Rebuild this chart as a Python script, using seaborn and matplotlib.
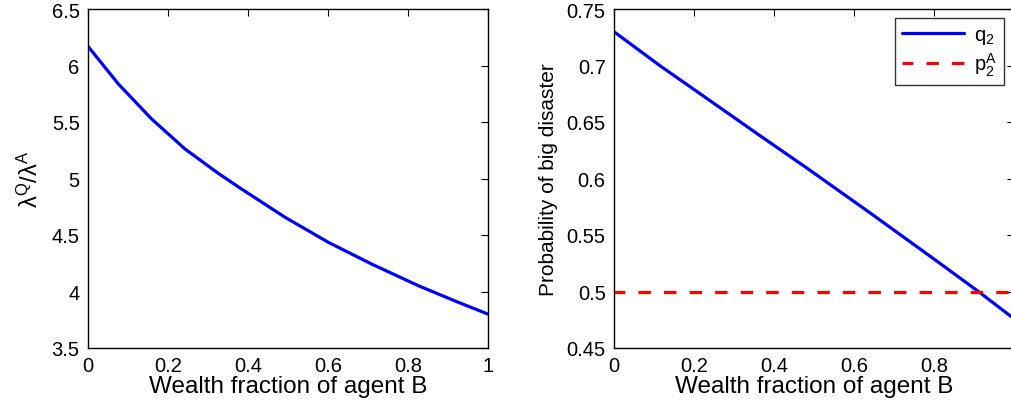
import numpy as np
import pandas as pd
import matplotlib
matplotlib.use('Agg')
import matplotlib.pyplot as plt
import seaborn as sns

# values
wealth_left = [0.0, 0.076, 0.159, 0.2425, 0.326, 0.38, 0.4925, 0.601, 0.709, 0.826, 0.926, 1.0]
lambda_ratio = [6.17, 5.836, 5.527, 5.261, 5.045, 4.916, 4.657, 4.435, 4.243, 4.051, 3.904, 3.80]

wealth_right = [0.0, 0.115, 0.24, 0.365, 0.4775, 0.644, 0.811, 0.911, 0.99, 1.0]
q2 = [0.7299, 0.6998, 0.6689, 0.6379, 0.6104, 0.5686, 0.5259, 0.50, 0.4786, 0.4765]
p2_a = [0.5] * len(wealth_right)

sns.set_theme(style='white')
plt.rcParams['font.family'] = ['Liberation Sans', 'DejaVu Sans']
plt.rcParams['mathtext.fontset'] = 'custom'
plt.rcParams['mathtext.rm'] = 'Liberation Sans'
plt.rcParams['mathtext.it'] = 'Liberation Sans'
plt.rcParams['text.color'] = 'black'
plt.rcParams['axes.labelcolor'] = 'black'

fig = plt.figure(figsize=(10.11, 4.02), dpi=100, facecolor='white')
W, H = 1011, 402
ax1 = fig.add_axes([88 / W, 1 - 349 / H, 400 / W, 339 / H])
ax2 = fig.add_axes([614 / W, 1 - 349 / H, 400 / W, 339 / H])

df1 = pd.DataFrame({'x': wealth_left, 'y': lambda_ratio})
sns.lineplot(data=df1, x='x', y='y', ax=ax1, color='#0000ff', linewidth=2.3)

df_q = pd.DataFrame({'x': wealth_right, 'y': q2})
df_p = pd.DataFrame({'x': wealth_right, 'y': p2_a})
sns.lineplot(data=df_q, x='x', y='y', ax=ax2, color='#0000ff', linewidth=2.3,
             label='$\\mathregular{q_2}$')
sns.lineplot(data=df_p, x='x', y='y', ax=ax2, color='#ff0000', linewidth=2.3,
             linestyle=(0.5, (3.9, 4.1)), label='$\\mathregular{p_2^A}$')

ticks_x = [0, 0.2, 0.4, 0.6, 0.8, 1]
ax1.set_xlim(0, 1)
ax1.set_ylim(3.5, 6.5)
ax1.set_xticks(ticks_x)
ax1.set_xticklabels(['0', '0.2', '0.4', '0.6', '0.8', '1'])
ax1.set_yticks([3.5, 4, 4.5, 5, 5.5, 6, 6.5])
ax1.set_yticklabels(['3.5', '4', '4.5', '5', '5.5', '6', '6.5'])
ax1.set_ylabel('$\\mathregular{\\lambda^Q/\\lambda^A}$', fontsize=17, labelpad=6)

ax2.set_xlim(0, 1)
ax2.set_ylim(0.45, 0.75)
ax2.set_xticks(ticks_x)
# the "1" label falls outside the cropped picture, as in the reference
ax2.set_xticklabels(['0', '0.2', '0.4', '0.6', '0.8', ''])
ax2.set_yticks([0.45, 0.5, 0.55, 0.6, 0.65, 0.7, 0.75])
ax2.set_yticklabels(['0.45', '0.5', '0.55', '0.6', '0.65', '0.7', '0.75'])
ax2.set_ylabel('Probability of big disaster', fontsize=15, labelpad=6)

for ax in (ax1, ax2):
    ax.set_xlabel('Wealth fraction of agent B', fontsize=17.5, labelpad=0)
    ax.tick_params(direction='in', length=5, width=0.8, top=True, right=True,
                   labelsize=14.5, colors='black', pad=6)
    for s in ax.spines.values():
        s.set_color('black')
        s.set_linewidth(1.0)

leg = ax2.legend(loc='upper right', bbox_to_anchor=(0.975, 0.973), borderaxespad=0,
                 fontsize=14.5, frameon=True, fancybox=False, handlelength=3.1,
                 labelspacing=0.2, borderpad=0.35, handletextpad=0.5)
leg.get_frame().set_edgecolor('black')
leg.get_frame().set_linewidth(1.0)

fig.savefig('out.png', dpi=100)
